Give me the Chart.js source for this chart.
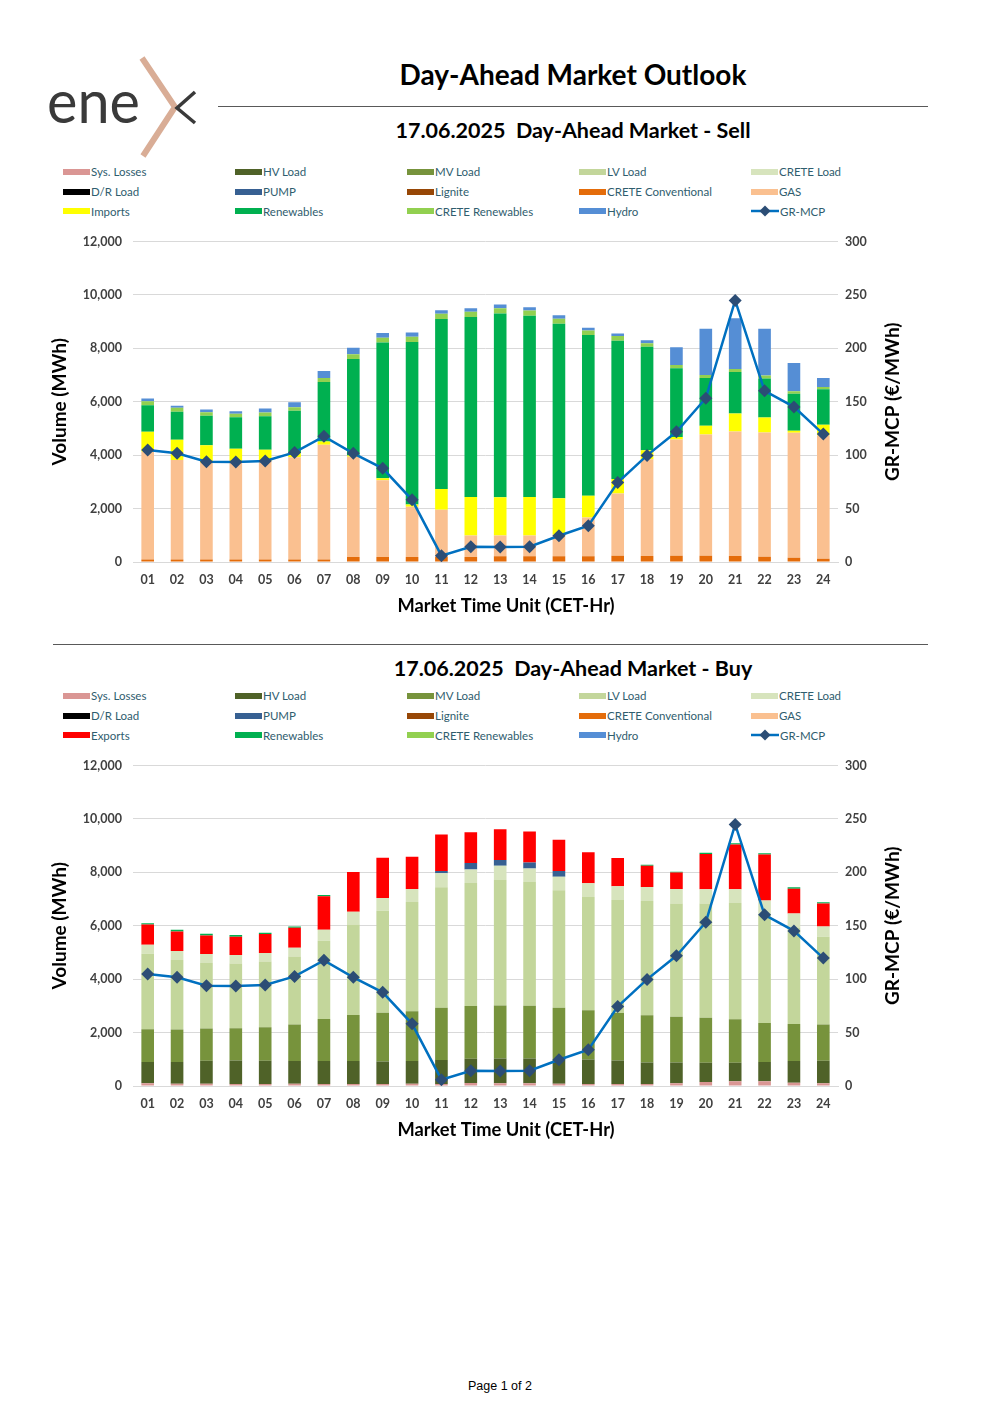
<!DOCTYPE html>
<html lang="en">

<head>
    <meta charset="utf-8">
    <title>Day-Ahead Market Outlook</title>
    <script src="https://cdn.jsdelivr.net/npm/chart.js@4.4.0/dist/chart.umd.min.js"></script>
    <style>
        body {
            margin: 0;
            background: #ffffff;
            font-family: Lato, "Open Sans", sans-serif;
        }

        .page {
            position: relative;
            width: 1000px;
            height: 1415px;
            overflow: hidden;
        }

        .abs {
            position: absolute;
        }

        .title {
            left: 218px;
            width: 710px;
            text-align: center;
            font-weight: bold;
            color: #000000;
            white-space: pre;
        }

        .rule {
            height: 0;
            border-top: 1.5px solid #595959;
        }

        .legend {
            left: 63px;
            display: grid;
            grid-template-columns: repeat(5, 172px);
            grid-auto-rows: 19.7px;
            font-size: 11.5px;
            color: #2f5d6e;
        }

        .legend div {
            display: flex;
            align-items: center;
            white-space: nowrap;
        }

        .legend .box {
            display: inline-block;
            width: 27px;
            height: 6px;
            margin-right: 1px;
        }

        .legend svg {
            margin-right: 1px;
        }

        .chart-box {
            left: 40px;
            width: 900px;
            height: 397px;
        }

        .footer {
            top: 1379px;
            left: 0;
            width: 1000px;
            text-align: center;
            font-family: "Liberation Sans", Arial, sans-serif;
            font-size: 12.5px;
            color: #000000;
        }
    </style>
</head>

<body>
    <div class="page">
        <!-- logo -->
        <svg class="abs" style="left:0;top:0" width="220" height="170">
            <text x="47" y="123" font-family="Lato" font-weight="400" font-size="60" fill="#3a3a3a"
                textLength="93" lengthAdjust="spacingAndGlyphs">ene</text>
            <polyline points="142,58 175,107 143,156" fill="none" stroke="#d9ad96" stroke-width="6" />
            <polyline points="195,92 177,108 195,123" fill="none" stroke="#3a3a3a" stroke-width="3.5" />
        </svg>

        <div class="abs title" style="top:57px;font-size:28px">Day-Ahead Market Outlook</div>
        <div class="abs rule" style="left:218px;width:710px;top:106px"></div>
        <div class="abs title" style="top:117px;font-size:21.5px">17.06.2025  Day-Ahead Market - Sell</div>

        <div class="abs legend" id="legendSell" style="top:162px"></div>
        <div class="abs chart-box" style="top:223px"><canvas id="chartSell"></canvas></div>

        <div class="abs rule" style="left:53px;width:875px;top:644px"></div>
        <div class="abs title" style="top:655px;font-size:21.5px">17.06.2025  Day-Ahead Market - Buy</div>

        <div class="abs legend" id="legendBuy" style="top:686px"></div>
        <div class="abs chart-box" style="top:747px"><canvas id="chartBuy"></canvas></div>

        <div class="abs footer">Page 1 of 2</div>
    </div>

    <script>
        // hours of the day
        const hours = ['01', '02', '03', '04', '05', '06', '07', '08', '09', '10', '11', '12',
            '13', '14', '15', '16', '17', '18', '19', '20', '21', '22', '23', '24']

        // market clearing price (€/MWh)
        const mcp = [104.8, 101.7, 93.9, 93.6, 94.6, 102.6, 117.6, 101.7, 87.7, 58.2, 5.9, 14.3,
            14.0, 14.3, 24.6, 33.9, 74.3, 99.8, 121.9, 153.3, 244.8, 160.2, 145.2, 119.7]

        // ---- sell side (MWh)
        const sellCreteConv = [90, 90, 90, 90, 90, 90, 90, 187, 187, 187, 187, 187,
            212, 212, 212, 212, 236, 224, 236, 236, 224, 199, 162, 124]
        const sellGas = [4040, 3729, 3630, 3667, 3692, 3829, 4301, 3757, 2873, 1878, 1766, 808,
            783, 783, 808, 1455, 2327, 3620, 4354, 4541, 4665, 4653, 4677, 4616]
        const sellImports = [747, 759, 647, 485, 423, 149, 125, 40, 75, 87, 784, 1443,
            1431, 1443, 1369, 809, 547, 336, 87, 324, 672, 560, 75, 398]
        const sellRenewables = [995, 1045, 1107, 1182, 1256, 1592, 2227, 3617, 5088, 6084, 6357, 6731,
            6880, 6781, 6531, 6021, 5175, 3881, 2576, 1791, 1555, 1455, 1381, 1331]
        const sellCreteRen = [149, 149, 137, 124, 137, 137, 149, 174, 174, 198, 199, 199,
            199, 199, 186, 174, 175, 125, 124, 112, 112, 112, 99, 87]
        const sellHydro = [99, 75, 99, 100, 149, 187, 261, 249, 174, 162, 137, 137,
            138, 124, 137, 100, 99, 112, 660, 1729, 1903, 1754, 1058, 336]

        // ---- buy side (MWh)
        const buySysLosses = [100, 87, 87, 75, 75, 87, 75, 75, 75, 87, 75, 112,
            100, 100, 87, 75, 75, 75, 100, 150, 174, 174, 125, 100]
        const buyHV = [794, 807, 857, 881, 869, 845, 857, 857, 844, 845, 894, 906,
            931, 931, 907, 919, 881, 807, 782, 719, 695, 720, 807, 844]
        const buyMV = [1230, 1217, 1205, 1205, 1254, 1366, 1577, 1726, 1826, 1863, 1962, 1975,
            1987, 1975, 1937, 1838, 1776, 1763, 1714, 1690, 1627, 1466, 1391, 1354]
        const buyLV = [2832, 2609, 2459, 2422, 2460, 2546, 2931, 3391, 3813, 4098, 4509, 4608,
            4695, 4632, 4397, 4247, 4236, 4285, 4235, 4272, 4360, 4090, 3614, 3291]
        const buyCreteLoad = [335, 335, 335, 323, 322, 335, 410, 471, 484, 484, 521, 509,
            534, 510, 509, 510, 509, 522, 546, 534, 509, 500, 521, 385]
        const buyPump = [0, 0, 0, 0, 0, 0, 0, 0, 0, 0, 87, 236,
            211, 223, 211, 0, 0, 0, 0, 0, 0, 0, 0, 0]
        const buyExports = [758, 733, 696, 683, 708, 745, 1254, 1491, 1503, 1205, 1366, 1155,
            1155, 1155, 1168, 1167, 1056, 795, 621, 1317, 1677, 1716, 932, 857]
        const buyRenewables = [49, 62, 62, 62, 50, 50, 50, 0, 0, 0, 0, 0,
            0, 0, 0, 0, 0, 37, 25, 49, 49, 50, 50, 50]

        const colors = {
            sysLosses: '#da9694', hv: '#4f6228', mv: '#77933c', lv: '#c3d69b', creteLoad: '#d7e4bd',
            dr: '#000000', pump: '#376092', lignite: '#974706', creteConv: '#e46c0a', gas: '#fac090',
            imports: '#ffff00', exports: '#ff0000', renewables: '#00b050', creteRen: '#92d050',
            hydro: '#558ed5', line: '#0070c0', marker: '#2c4d75'
        }

        function bar(label, data, color) {
            return {
                type: 'bar', label: label, data: data, backgroundColor: color,
                borderWidth: 0, stack: 's', yAxisID: 'y',
                barPercentage: 0.43, categoryPercentage: 1
            }
        }

        function priceLine() {
            return {
                type: 'line', label: 'GR-MCP', data: mcp, yAxisID: 'y1', order: -1,
                borderColor: colors.line, borderWidth: 2.5, tension: 0,
                pointStyle: 'rectRot', pointRadius: 6.5, pointBackgroundColor: colors.marker,
                pointBorderColor: colors.marker, pointBorderWidth: 0
            }
        }

        // x title (slightly right of centre) and right title reading bottom to top
        const axisTitles = {
            id: 'axisTitles',
            afterDraw(chart) {
                const ctx = chart.ctx
                const a = chart.chartArea
                ctx.save()
                ctx.font = 'bold 18.3px Lato'
                ctx.fillStyle = '#000000'
                ctx.textAlign = 'center'
                ctx.textBaseline = 'middle'
                ctx.fillText('Market Time Unit (CET-Hr)', 466, a.bottom + 44)
                ctx.translate(853, (a.top + a.bottom) / 2)
                ctx.rotate(-Math.PI / 2)
                ctx.font = 'bold 19px Lato'
                ctx.fillText('GR-MCP (€/MWh)', 0, 0)
                ctx.restore()
            }
        }

        const tickFont = { family: 'Lato', size: 12.5, weight: 'bold' }

        function makeChart(id, datasets, legendId) {
            const chart = new Chart(document.getElementById(id), {
                data: { labels: hours, datasets: datasets },
                plugins: [axisTitles],
                options: {
                    responsive: true,
                    maintainAspectRatio: false,
                    animation: false,
                    layout: { padding: { top: 14 } },
                    plugins: { legend: { display: false }, tooltip: { enabled: false } },
                    scales: {
                        x: {
                            stacked: true,
                            grid: { display: false, drawTicks: false },
                            border: { color: '#d9d9d9' },
                            ticks: { color: '#404040', font: tickFont, padding: 10, maxRotation: 0 },
                            afterFit(s) { s.height = 58 }
                        },
                        y: {
                            stacked: true,
                            min: 0, max: 12000,
                            grid: { color: '#d9d9d9', drawTicks: false },
                            border: { display: false },
                            ticks: {
                                stepSize: 2000, color: '#404040', font: tickFont, padding: 11,
                                callback: v => v.toLocaleString('en-US')
                            },
                            title: {
                                display: true, text: 'Volume (MWh)', color: '#000000',
                                font: { family: 'Lato', size: 19, weight: 'bold' }, padding: { top: 8.6, bottom: 0 }
                            },
                            afterFit(s) { s.width = 93 }
                        },
                        y1: {
                            position: 'right',
                            min: 0, max: 300,
                            grid: { display: false, drawTicks: false },
                            border: { display: false },
                            ticks: { stepSize: 50, color: '#404040', font: tickFont, padding: 7 },
                            afterFit(s) { s.width = 102 }
                        }
                    }
                }
            })

            // legend in a 5 column grid, same order as the stack
            const legend = document.getElementById(legendId)
            for (const ds of chart.data.datasets) {
                const item = document.createElement('div')
                if (ds.type === 'line') {
                    item.innerHTML = '<svg width="28" height="12"><line x1="0" y1="6" x2="28" y2="6" stroke="' +
                        colors.line + '" stroke-width="2.5"/><polygon points="14,0.5 19.5,6 14,11.5 8.5,6" fill="' +
                        colors.marker + '"/></svg>' + ds.label
                } else {
                    item.innerHTML = '<span class="box" style="background:' + ds.backgroundColor + '"></span>' + ds.label
                }
                legend.appendChild(item)
            }
            return chart
        }

        makeChart('chartSell', [
            bar('Sys. Losses', [], colors.sysLosses),
            bar('HV Load', [], colors.hv),
            bar('MV Load', [], colors.mv),
            bar('LV Load', [], colors.lv),
            bar('CRETE Load', [], colors.creteLoad),
            bar('D/R Load', [], colors.dr),
            bar('PUMP', [], colors.pump),
            bar('Lignite', [], colors.lignite),
            bar('CRETE Conventional', sellCreteConv, colors.creteConv),
            bar('GAS', sellGas, colors.gas),
            bar('Imports', sellImports, colors.imports),
            bar('Renewables', sellRenewables, colors.renewables),
            bar('CRETE Renewables', sellCreteRen, colors.creteRen),
            bar('Hydro', sellHydro, colors.hydro),
            priceLine()
        ], 'legendSell')

        makeChart('chartBuy', [
            bar('Sys. Losses', buySysLosses, colors.sysLosses),
            bar('HV Load', buyHV, colors.hv),
            bar('MV Load', buyMV, colors.mv),
            bar('LV Load', buyLV, colors.lv),
            bar('CRETE Load', buyCreteLoad, colors.creteLoad),
            bar('D/R Load', [], colors.dr),
            bar('PUMP', buyPump, colors.pump),
            bar('Lignite', [], colors.lignite),
            bar('CRETE Conventional', [], colors.creteConv),
            bar('GAS', [], colors.gas),
            bar('Exports', buyExports, colors.exports),
            bar('Renewables', buyRenewables, colors.renewables),
            bar('CRETE Renewables', [], colors.creteRen),
            bar('Hydro', [], colors.hydro),
            priceLine()
        ], 'legendBuy')
    </script>
</body>

</html>
